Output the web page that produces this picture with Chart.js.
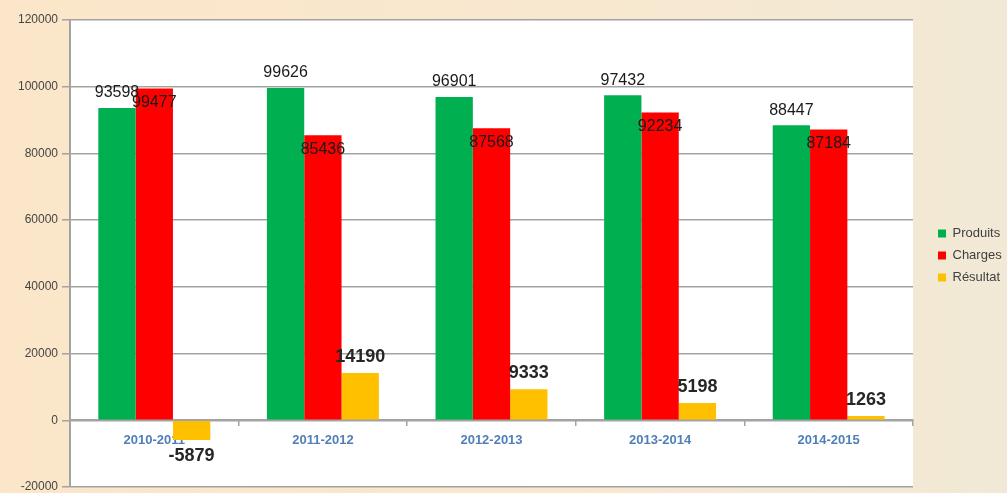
<!DOCTYPE html>
<html>
<head>
<meta charset="utf-8">
<title>Produits / Charges / Résultat</title>
<script src="https://cdn.jsdelivr.net/npm/chart.js@4.4.0/dist/chart.umd.min.js"></script>
<style>
html, body {
	margin: 0;
	padding: 0;
}
body {
	width: 1007px;
	height: 493px;
	overflow: hidden;
	background: linear-gradient(to right, #fbe6c9 0%, #f8e8d0 60%, #f1e9d6 100%);
}
#wrap {
	position: relative;
	width: 1007px;
	height: 493px;
}
</style>
</head>
<body>
<div id="wrap"><canvas id="bilan"></canvas></div>
<script>
// valeurs
var annees = ['2010-2011', '2011-2012', '2012-2013', '2013-2014', '2014-2015'];
var produits = [93598, 99626, 96901, 97432, 88447];
var charges = [99477, 85436, 87568, 92234, 87184];
var resultat = [-5879, 14190, 9333, 5198, 1263];
var yMin = -20000, yMax = 120000, yStep = 20000;

var grisGrille = '#a3a3a3';

// fond blanc de la zone de tracé + étiquettes des barres
var decor = {
	id: 'decor',
	afterInit: function(chart) {
		// largeur fixe de la légende
		var lg = chart.legend;
		var fit = lg.fit;
		lg.fit = function() {
			fit.call(this);
			this.width = 94;
		};
	},
	afterLayout: function(chart) {
		var lg = chart.legend;
		lg.left += 16; lg.right += 16;
		lg.top += 2; lg.bottom += 2;
	},
	beforeDraw: function(chart) {
		var a = chart.chartArea, c = chart.ctx;
		c.save();
		c.fillStyle = '#ffffff';
		c.fillRect(a.left, a.top, a.right - a.left, a.bottom - a.top);
		c.restore();
	},
	afterDatasetsDraw: function(chart) {
		var c = chart.ctx;
		c.save();
		c.textAlign = 'center';
		c.textBaseline = 'middle';
		chart.data.datasets.forEach(function(ds, i) {
			var meta = chart.getDatasetMeta(i);
			meta.data.forEach(function(bar, j) {
				var v = ds.data[j];
				var y;
				if (i == 0) {
					c.font = '16px "Liberation Sans", Arial, sans-serif';
					c.fillStyle = '#1a1a1a';
					y = bar.y - 15;
				} else if (i == 1) {
					c.font = '16px "Liberation Sans", Arial, sans-serif';
					c.fillStyle = '#1a1a1a';
					y = bar.y + 14;
				} else {
					c.font = 'bold 18px "Liberation Sans", Arial, sans-serif';
					c.fillStyle = '#262626';
					y = v >= 0 ? bar.y - 16 : bar.y + 16;
				}
				c.fillText(String(v), bar.x, y);
			});
		});
		c.restore();
	}
};

var ctx = document.getElementById('bilan').getContext('2d');
var bilanChart = new Chart(ctx, {
	type: 'bar',
	data: {
		labels: annees,
		datasets: [
			{ label: 'Produits', data: produits, backgroundColor: '#00b050' },
			{ label: 'Charges', data: charges, backgroundColor: '#ff0000' },
			{ label: 'Résultat', data: resultat, backgroundColor: '#ffc000' }
		]
	},
	options: {
		responsive: true,
		maintainAspectRatio: false,
		animation: false,
		devicePixelRatio: 1,
		datasets: {
			bar: { categoryPercentage: 0.664, barPercentage: 1.0 }
		},
		layout: {
			padding: { top: 20, bottom: 6, left: 0, right: 0 }
		},
		plugins: {
			tooltip: { enabled: false },
			legend: {
				position: 'right',
				fullSize: false,
				labels: {
					boxWidth: 8,
					boxHeight: 8,
					padding: 9,
					color: '#404040',
					font: { family: '"Liberation Sans", Arial, sans-serif', size: 13 }
				}
			}
		},
		scales: {
			x: {
				position: { y: 0 },
				grid: {
					offset: true,
					drawOnChartArea: false,
					drawTicks: true,
					tickLength: 5,
					color: grisGrille,
					lineWidth: 1.5
				},
				border: { color: grisGrille, width: 2 },
				ticks: {
					padding: 7,
					color: '#4f7fb8',
					font: { family: '"Liberation Sans", Arial, sans-serif', size: 13, weight: 'bold' }
				}
			},
			y: {
				min: yMin,
				max: yMax,
				afterFit: function(s) {
					s.width = 70;
					s.paddingTop = 0;
					s.paddingBottom = 0;
				},
				grid: {
					color: grisGrille,
					lineWidth: 1.5,
					tickLength: 8
				},
				border: { color: grisGrille, width: 2 },
				ticks: {
					stepSize: yStep,
					padding: 4,
					color: '#454545',
					font: { family: '"Liberation Sans", Arial, sans-serif', size: 12 },
					callback: function(v) { return String(v); }
				}
			}
		}
	},
	plugins: [decor]
});
</script>
</body>
</html>
